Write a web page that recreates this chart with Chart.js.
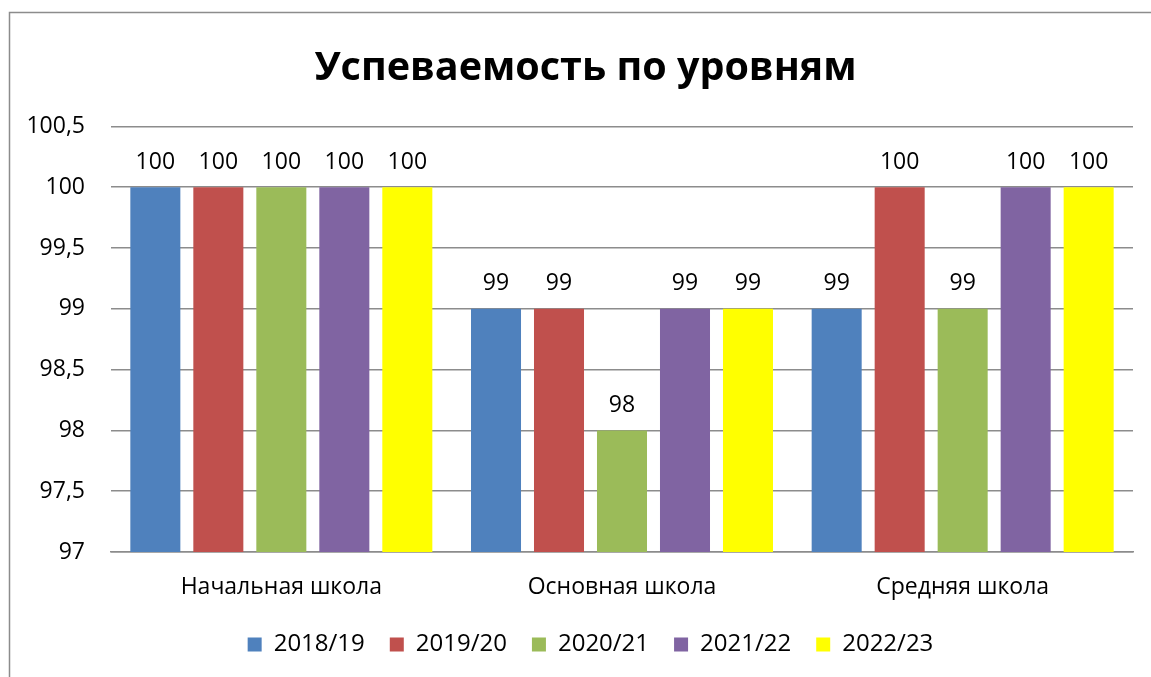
<!DOCTYPE html>
<html><head><meta charset="utf-8">
<script src="https://cdn.jsdelivr.net/npm/chart.js@4.4.0/dist/chart.umd.min.js"></script>
<style>html,body{margin:0;padding:0;background:#fff;}#wrap{width:1151px;height:677px;position:relative;}</style>
</head><body><div id="wrap"><canvas id="c"></canvas></div>
<script>
const categories = ["Начальная школа", "Основная школа", "Средняя школа"];
const seriesNames = ["2018/19", "2019/20", "2020/21", "2021/22", "2022/23"];
const v2018 = [100, 99, 99];
const v2019 = [100, 99, 100];
const v2020 = [100, 98, 99];
const v2021 = [100, 99, 100];
const v2022 = [100, 99, 100];
const colors = ["#4F81BD", "#C0504D", "#9BBB59", "#8064A2", "#FFFF00"];
const yTicks = [97, 97.5, 98, 98.5, 99, 99.5, 100, 100.5];
const FONT = "'Open Sans', Calibri, sans-serif";

const values = [v2018, v2019, v2020, v2021, v2022];

const frame = {
  id: 'frame',
  afterLayout(chart) {
    if (chart.legend) { chart.legend.left += 19; chart.legend.right += 19; }
    if (chart.titleBlock) { chart.titleBlock.left += 14; chart.titleBlock.right += 14; }
  },
  beforeDraw(chart) {
    const ctx = chart.ctx;
    ctx.save();
    ctx.strokeStyle = '#8c8c8c';
    ctx.lineWidth = 1.5;
    ctx.strokeRect(9.5, 12.5, 1200, 700);
    ctx.restore();
  }
};
const valueLabels = {
  id: 'valueLabels',
  afterDatasetsDraw(chart) {
    const ctx = chart.ctx;
    ctx.save();
    ctx.font = "23px " + FONT;
    ctx.fillStyle = '#000';
    ctx.textAlign = 'center';
    ctx.textBaseline = 'middle';
    chart.data.datasets.forEach((ds, i) => {
      chart.getDatasetMeta(i).data.forEach((bar, j) => {
        ctx.fillText(String(ds.data[j]), bar.x, bar.y - 25);
      });
    });
    ctx.restore();
  }
};

new Chart(document.getElementById('c'), {
  type: 'bar',
  data: {
    labels: categories,
    datasets: seriesNames.map((n, i) => ({
      label: n, data: values[i], backgroundColor: colors[i],
      categoryPercentage: 0.9246, barPercentage: 0.794
    }))
  },
  options: {
    responsive: true, maintainAspectRatio: false, animation: false,
    layout: { padding: { left: 10, right: 18, top: 12, bottom: 10.5 } },
    plugins: {
      title: { display: true, text: "Успеваемость по уровням", color: '#000',
        font: { family: FONT, size: 39.5, weight: 'bold' }, padding: { top: 33, bottom: 34 } },
      legend: { position: 'bottom',
        labels: { color: '#000', font: { family: FONT, size: 24 }, boxWidth: 14, boxHeight: 14, padding: 25 } },
      tooltip: { enabled: false }
    },
    scales: {
      x: {
        grid: { display: false },
        border: { display: true, color: '#8c8c8c', width: 1.5 },
        ticks: { color: '#000', font: { family: FONT, size: 23 }, padding: 14 },
        afterFit(s) { s.height = 55.5; }
      },
      y: {
        min: 97, max: 100.5,
        afterBuildTicks(s) { s.ticks = yTicks.map(v => ({ value: v })); },
        grid: { color: '#8c8c8c', lineWidth: 1.5, drawTicks: false },
        border: { display: false },
        ticks: { color: '#000', font: { family: FONT, size: 23 }, padding: 26,
          callback: v => String(v).replace('.', ',') },
        afterFit(s) { s.width = 101; }
      }
    }
  },
  plugins: [frame, valueLabels]
});
</script></body></html>
